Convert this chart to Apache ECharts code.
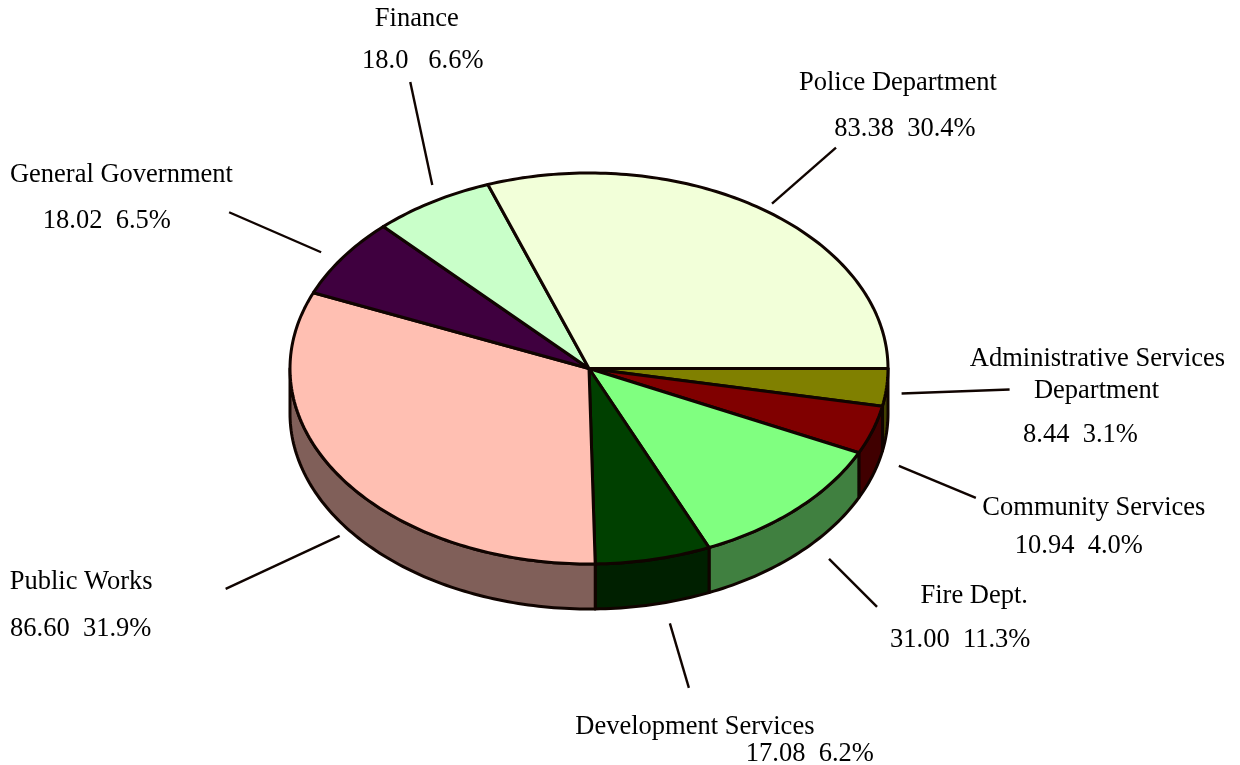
<!DOCTYPE html>
<html><head><meta charset="utf-8">
<style>html,body{margin:0;padding:0;background:#fff}#c{width:1240px;height:765px}</style>
<script src="https://cdn.jsdelivr.net/npm/echarts@6/dist/echarts.min.js"></script>
</head><body><div id="c"></div>
<script>
// Data, in drawing order (clockwise from 3 o'clock)
const categories = ['Administrative Services\nDepartment','Community Services','Fire Dept.','Development Services','Public Works','General Government','Finance','Police Department'];
const values = [8.44,10.94,31.00,17.08,86.60,18.02,18.00,83.38];
const valueTexts = ['8.44','10.94','31.00','17.08','86.60','18.02','18.0','83.38'];
const shareTexts = ['3.1%','4.0%','11.3%','6.2%','31.9%','6.5%','6.6%','30.4%'];
const gaps = ['  ','  ','  ','  ','  ','  ','   ','  '];

// Style and layout, separate from the data
const colors = ['#808000','#800000','#80FF80','#004000','#FFBFB2','#3F003F','#C9FFC9','#F2FFD9'];
const sideColors = ['#404000','#400000','#408040','#002000','#805F59','#1F001F','#648064','#79806C'];
const G = {cx:589, cy:368.5, rx:299, ry:195.5, depth:45, stroke:'#100400', lw:3, font:'26.5px "Liberation Serif"', textShift:3};
// offsets from each slice's computed rim mid-point
const leaderOffsets = [[15,6,123,2],[26,36,103,68],[32,50,80,98],[16.5,64,35.5,128.5],[-2,57.5,-116,110.5],[-22,-5,-114,-45],[0,-17,-22,-120],[11,-5,75,-61]];
const labelOffsets = [
  [[210.9,-31.8],[209.9,0.2],[193.9,44.2]],
  [[221,74.8],[206,112.8]],
  [[177.2,84.5],[163.2,128.5]],
  [[41.5,164.7],[156.5,191.7]],
  [[-260.5,100.5],[-261,147.5]],
  [[-221.7,-85.7],[-236.2,-39.7]],
  [[-15.5,-185.7],[-9.5,-143.7]],
  [[137,-129],[144,-83]]
];

const total = values.reduce((a,b)=>a+b,0);
const rows = values.map((v,i)=>[v,i]);
function span(idx){
  let s=0; for(let i=0;i<idx;i++) s+=values[i];
  return [s/total*360, (s+values[idx])/total*360]; // clockwise degrees from 3 o'clock
}
function pt(deg,dy){const r=deg*Math.PI/180;return [G.cx+G.rx*Math.cos(r), G.cy+G.ry*Math.sin(r)+(dy||0)];}
function arc(a,b,dy){const n=Math.max(2,Math.ceil(Math.abs(b-a)));const out=[];for(let k=0;k<=n;k++)out.push(pt(a+(b-a)*k/n,dy));return out;}

function renderSide(params,api){
  const i=api.value(1), [a,b]=span(i);
  const b2=Math.min(b,180);
  if(a>=180) return {type:'group',children:[]};
  const poly=arc(a,b2,0).concat(arc(b2,a,G.depth));
  return {type:'polygon',shape:{points:poly},style:{fill:sideColors[i],stroke:G.stroke,lineWidth:G.lw,lineJoin:'round'}};
}
function renderTop(params,api){
  const i=api.value(1), [a,b]=span(i);
  const poly=[[G.cx,G.cy]].concat(arc(a,b,0));
  return {type:'polygon',shape:{points:poly},style:{fill:colors[i],stroke:G.stroke,lineWidth:G.lw,lineJoin:'round'}};
}
function renderLabel(params,api){
  const i=api.value(1), [a,b]=span(i);
  const [ax,ay]=pt((a+b)/2,0);
  const lo=leaderOffsets[i];
  const kids=[{type:'line',shape:{x1:ax+lo[0],y1:ay+lo[1],x2:ax+lo[2],y2:ay+lo[3]},style:{stroke:G.stroke,lineWidth:2.4}}];
  const lines=categories[i].split('\n').concat([valueTexts[i]+gaps[i]+shareTexts[i]]);
  lines.forEach((t,k)=>{
    const o=labelOffsets[i][k];
    kids.push({type:'text',style:{x:ax+o[0],y:ay+o[1]+G.textShift,text:t,font:G.font,fill:'#000',textAlign:'center',textVerticalAlign:'middle'}});
  });
  return {type:'group',children:kids};
}
const chart=echarts.init(document.getElementById('c'),null,{renderer:'canvas'});
chart.setOption({
  backgroundColor:'#fff',animation:false,
  series:[
    {type:'custom',coordinateSystem:'none',data:rows,renderItem:renderSide,silent:true,z:1},
    {type:'custom',coordinateSystem:'none',data:rows,renderItem:renderTop,silent:true,z:2},
    {type:'custom',coordinateSystem:'none',data:rows,renderItem:renderLabel,silent:true,z:3}
  ]
});
</script></body></html>
